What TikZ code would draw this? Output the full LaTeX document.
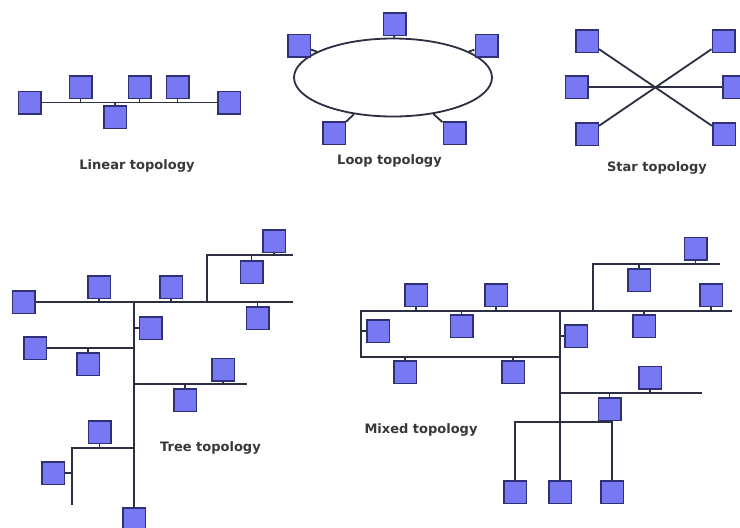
\documentclass[tikz,border=0pt]{standalone}
\usepackage{fontspec}
\setsansfont{DejaVu Sans}
\usetikzlibrary{shapes.geometric}
\definecolor{pcfill}{RGB}{120,120,242}
\definecolor{pcedge}{RGB}{48,48,120}
\definecolor{wire}{RGB}{44,46,66}
\tikzset{pc/.style={draw=pcedge, fill=pcfill, line width=1.5pt, minimum size=22.5pt, inner sep=0pt},
  bus/.style={draw=wire, line width=1.8pt},
  caption/.style={font=\sffamily\bfseries\fontsize{13}{15}\selectfont, text=black!78}}

\begin{document}
\begin{tikzpicture}[x=1pt, y=-1pt]
\useasboundingbox (0,0) rectangle (740,528);
\fill[white] (0,0) rectangle (740,528);
\clip (0,0) rectangle (740,528);
\node[pc] (l1) at (29.5,102.5) {};
\node[pc] (l2) at (80.5,87) {};
\node[pc] (l3) at (115,117) {};
\node[pc] (l4) at (139.5,87) {};
\node[pc] (l5) at (177.5,87) {};
\node[pc] (l6) at (229,102.5) {};
\draw[bus] (l1) -- (l6);
\foreach \n in {l2,l3,l4,l5}
{
  \draw[bus] (\n) -- (\n |- l1);
}
\node[caption] (lincap) at (137,166) {Linear topology};
\node[bus, ellipse, minimum width=198pt, minimum height=78pt] (ring) at (393,77.5) {};
\node[pc] (r1) at (394.5,24) {};
\node[pc] (r2) at (299,45.5) {};
\node[pc] (r3) at (486.5,45.5) {};
\node[pc] (r4) at (334,133) {};
\node[pc] (r5) at (454.5,133) {};
\foreach \n in {r1,r2,r3,r4,r5}
{
  \draw[bus] (\n) -- (ring);
}
\node[caption] (loopcap) at (389.5,161) {Loop topology};
\node[pc] (s1) at (587,41) {};
\node[pc] (s2) at (576.5,87) {};
\node[pc] (s3) at (587,134) {};
\node[pc] (s4) at (723.5,41) {};
\node[pc] (s5) at (734,87) {};
\node[pc] (s6) at (724,134) {};
\draw[bus] (s1) -- (s6);
\draw[bus] (s3) -- (s4);
\draw[bus] (s2) -- (s5);
\node[caption] (starcap) at (657,168) {Star topology};
\node[pc] (t0) at (23.5,302) {};
\coordinate (tend) at (293,302);
\coordinate (tfork) at (134,302);
\coordinate (tup) at (207,302);
\coordinate (tupend) at (293,255);
\node[pc] (ta) at (99,287) {};
\node[pc] (tb) at (171,287) {};
\node[pc] (tc) at (257.5,318) {};
\node[pc] (td) at (274,241) {};
\node[pc] (te) at (251.5,272) {};
\node[pc] (tf) at (150.5,328) {};
\node[pc] (tg) at (35,348) {};
\node[pc] (th) at (88,364) {};
\coordinate (tr0) at (134,384);
\coordinate (tr1) at (247,384);
\node[pc] (ti) at (223,369.5) {};
\node[pc] (tj) at (185,400) {};
\coordinate (tl0) at (134,448);
\coordinate (tl1) at (72,448);
\coordinate (tl2) at (72,505);
\node[pc] (tk) at (99.5,432) {};
\node[pc] (tm) at (53,473) {};
\node[pc] (tbot) at (134,519) {};
\draw[bus] (t0) -- (tend);
\draw[bus] (tup) |- (tupend);
\draw[bus] (tfork) -- (tbot);
\draw[bus] (tr0) -- (tr1);
\draw[bus] (tl0) -- (tl1) -- (tl2);
\draw[bus] (tg) -- (tg -| tfork);
\foreach \n in {ta,tb,tc}
{
  \draw[bus] (\n) -- (\n |- tend);
}
\foreach \n in {td,te}
{
  \draw[bus] (\n) -- (\n |- tupend);
}
\foreach \n in {ti,tj}
{
  \draw[bus] (\n) -- (\n |- tr0);
}
\draw[bus] (tf) -- (tf -| tfork);
\draw[bus] (th) -- (th |- tg);
\draw[bus] (tk) -- (tk |- tl0);
\draw[bus] (tm) -- (tm -| tl1);
\node[caption] (treecap) at (210.5,448) {Tree topology};
\coordinate (m0) at (361,311);
\coordinate (m1) at (732,311);
\coordinate (mtop) at (560,311);
\coordinate (mlow) at (560,357);
\coordinate (mu0) at (593,311);
\coordinate (mu1) at (720,264);
\coordinate (mr0) at (560,393);
\coordinate (mr1) at (702,393);
\coordinate (mlb) at (560,422);
\node[pc] (ma) at (416,295) {};
\node[pc] (mb) at (496,295) {};
\node[pc] (mc) at (711,295) {};
\node[pc] (md) at (461.5,326) {};
\node[pc] (me) at (644,326) {};
\node[pc] (mf) at (378,331) {};
\node[pc] (mg) at (576,336) {};
\node[pc] (mh) at (405,372) {};
\node[pc] (mi) at (513,372) {};
\node[pc] (mj) at (695.5,248.5) {};
\node[pc] (mk) at (639,280) {};
\node[pc] (ml) at (650,377.5) {};
\node[pc] (mm) at (609.5,409) {};
\node[pc] (mn) at (515,492) {};
\node[pc] (mo) at (560,492) {};
\node[pc] (mp) at (612,492) {};
\draw[bus] (m1) -- (m0) |- (mlow);
\draw[bus] (mtop) -- (mo);
\draw[bus] (mu0) |- (mu1);
\draw[bus] (mr0) -- (mr1);
\draw[bus] (mn) -- (mn |- mlb) -- (mp |- mlb) -- (mp);
\foreach \n in {ma,mb,mc,md,me}
{
  \draw[bus] (\n) -- (\n |- m0);
}
\foreach \n in {mh,mi}
{
  \draw[bus] (\n) -- (\n |- mlow);
}
\foreach \n in {mj,mk}
{
  \draw[bus] (\n) -- (\n |- mu1);
}
\foreach \n in {ml,mm}
{
  \draw[bus] (\n) -- (\n |- mr0);
}
\draw[bus] (mf) -- (mf -| m0);
\draw[bus] (mg) -- (mg -| mtop);
\node[caption] (mixcap) at (421,430) {Mixed topology};
\end{tikzpicture}
\end{document}
